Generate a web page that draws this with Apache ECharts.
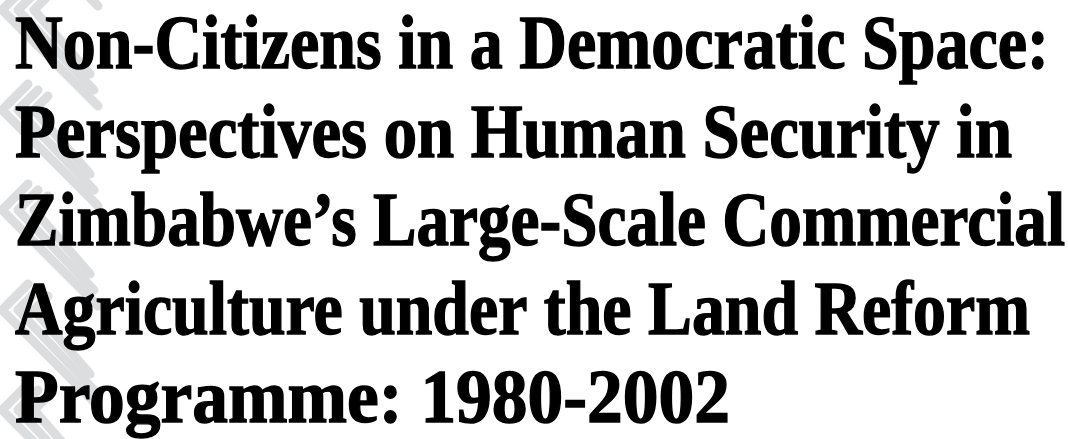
<!DOCTYPE html>
<html>
<head>
<meta charset="utf-8">
<script src="https://cdn.jsdelivr.net/npm/echarts@6/dist/echarts.min.js"></script>
<style>
  html, body { margin: 0; padding: 0; background: #fff; }
  #chart { width: 1068px; height: 439px; }
</style>
</head>
<body>
<div id="chart"></div>
<script>
// title lines of the cover
const titleLines = [
  'Non-Citizens in a Democratic Space:',
  'Perspectives on Human Security in',
  'Zimbabwe\u2019s Large-Scale Commercial',
  'Agriculture under the Land Reform',
  'Programme: 1980-2002'
]

// layout: where each line ends on the right
const lineRight = [1049, 1012, 1065, 1030, 730]
const fontSize = 76
const fontFamily = '"Liberation Serif", "Times New Roman", serif'
const leftX = 15
const firstBaseline = 67
const lineGap = 88.5

function textWidth(s) {
  let ctx = document.createElement('canvas').getContext('2d')
  ctx.font = 'bold ' + fontSize + 'px ' + fontFamily
  return ctx.measureText(s).width
}

// grey chevron watermark at the left edge
function watermark() {
  let items = []
  for (let k = -1; k < 5; k++) {
    let ay = 10 + k * 100
    for (let j = 0; j < 3; j++) {
      let ax = 2 + j * 16
      items.push({
        type: 'polyline',
        silent: true,
        shape: {
          points: [
            [ax + 26 - j * 6, ay - 26 + j * 6],
            [ax, ay],
            [98 - j * 4, ay + 96 - j * 16]
          ]
        },
        style: { stroke: '#dcdddf', lineWidth: 9, fill: null, lineJoin: 'round', lineCap: 'round' }
      })
    }
  }
  return items
}

function titleTexts() {
  return titleLines.map((t, i) => ({
    type: 'text',
    silent: true,
    x: leftX,
    y: firstBaseline + i * lineGap - fontSize * 0.24,
    scaleX: (lineRight[i] - leftX) / textWidth(t),
    style: {
      text: t,
      font: 'bold ' + fontSize + 'px ' + fontFamily,
      fill: '#000',
      stroke: '#000',
      lineWidth: 1.4,
      align: 'left',
      verticalAlign: 'middle'
    }
  }))
}

let chart = echarts.init(document.getElementById('chart'))
chart.setOption({
  backgroundColor: '#fff',
  animation: false,
  graphic: watermark().concat(titleTexts())
})
</script>
</body>
</html>
